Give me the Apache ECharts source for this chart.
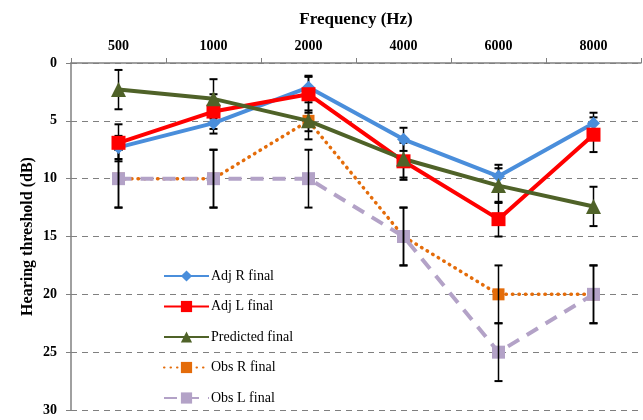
<!DOCTYPE html>
<html>
<head>
<meta charset="utf-8">
<script src="https://cdn.jsdelivr.net/npm/echarts@6/dist/echarts.min.js"></script>
<style>
html,body{margin:0;padding:0;background:#fff;}
#c{width:643px;height:420px;}
</style>
</head>
<body>
<div id="c"></div>
<script>
const categories = ['500', '1000', '2000', '4000', '6000', '8000'];
const yTicks = [0, 5, 10, 15, 20, 25, 30];
const adjR = [7.3, 5.2, 2.1, 6.6, 9.8, 5.2];
const adjL = [6.9, 4.2, 2.7, 8.5, 13.5, 6.2];
const predicted = [2.3, 3.1, 5.0, 8.3, 10.6, 12.4];
const obsR = [10, 10, 5, 15, 20, 20];
const obsL = [10, 10, 10, 15, 25, 20];
const adjRErr = [1.0, 0.9, 0.9, 1.0, 1.0, 0.9];
const adjLErr = [1.6, 1.5, 1.6, 1.6, 1.5, 1.5];
const predErr = [1.7, 1.7, 0.9, 1.6, 1.5, 1.7];
const obsRErr = [2.5, 2.5, 1.6, 2.5, 2.5, 2.5];
const obsLErr = [2.5, 2.5, 2.5, 2.5, 2.5, 2.5];

const FONT = '"Liberation Serif", "Times New Roman", serif';

function errData(vals, errs) {
  return vals.map((v, i) => [i, v - errs[i], v + errs[i]]);
}
function errSeries(vals, errs) {
  return {
    type: 'custom',
    silent: true,
    z: 3,
    renderItem: function (params, api) {
      const x = api.value(0);
      const lo = api.coord([x, api.value(1)]);
      const hi = api.coord([x, api.value(2)]);
      const w = 4;
      return {
        type: 'group',
        children: [
          { type: 'line', shape: { x1: lo[0], y1: lo[1], x2: hi[0], y2: hi[1] }, style: { stroke: '#000', lineWidth: 1.5 } },
          { type: 'line', shape: { x1: lo[0] - w, y1: lo[1], x2: lo[0] + w, y2: lo[1] }, style: { stroke: '#000', lineWidth: 2 } },
          { type: 'line', shape: { x1: hi[0] - w, y1: hi[1], x2: hi[0] + w, y2: hi[1] }, style: { stroke: '#000', lineWidth: 2 } }
        ]
      };
    },
    encode: { x: 0, y: [1, 2] },
    data: errData(vals, errs)
  };
}

const chart = echarts.init(document.getElementById('c'));
chart.setOption({
  animation: false,
  textStyle: { fontFamily: FONT },
  grid: { left: 71, right: 2, top: 63, bottom: 10, containLabel: false },
  legend: {
    orient: 'vertical',
    left: 163,
    top: 269,
    height: 200,
    padding: 0,
    itemWidth: 45,
    itemHeight: 14,
    itemGap: 16.5,
    textStyle: { fontFamily: FONT, fontSize: 14, color: '#000', padding: [0, 0, 0, -3] },
    data: ['Adj R final', 'Adj L final', 'Predicted final', 'Obs R final', 'Obs L final']
  },
  xAxis: {
    type: 'category',
    position: 'top',
    data: categories,
    boundaryGap: true,
    name: 'Frequency (Hz)',
    nameLocation: 'middle',
    nameGap: 35,
    nameTextStyle: { fontFamily: FONT, fontSize: 17, fontWeight: 'bold', color: '#000' },
    axisLine: { lineStyle: { color: '#808080', width: 1.5 } },
    axisTick: { show: true, length: 5, lineStyle: { color: '#808080' }, alignWithLabel: false },
    axisLabel: { fontFamily: FONT, fontSize: 14, fontWeight: 'bold', color: '#000', margin: 10 },
    splitLine: { show: false }
  },
  yAxis: {
    type: 'value',
    inverse: true,
    min: yTicks[0],
    max: yTicks[yTicks.length - 1],
    interval: 5,
    name: 'Hearing threshold (dB)',
    nameLocation: 'middle',
    nameGap: 35,
    nameMoveOverlap: false,
    nameRotate: 90,
    nameTextStyle: { fontFamily: FONT, fontSize: 16, fontWeight: 'bold', color: '#000' },
    axisLine: { show: true, lineStyle: { color: '#808080', width: 1.5 } },
    axisTick: { show: true, length: 5, lineStyle: { color: '#808080' } },
    axisLabel: { fontFamily: FONT, fontSize: 14, fontWeight: 'bold', color: '#000', margin: 14 },
    splitLine: { show: true, lineStyle: { color: '#808080', type: [6, 5], width: 1.2 } }
  },
  series: [
    errSeries(obsL, obsLErr),
    errSeries(obsR, obsRErr),
    errSeries(predicted, predErr),
    errSeries(adjL, adjLErr),
    errSeries(adjR, adjRErr),
    {
      name: 'Adj R final', type: 'line', data: adjR, z: 4,
      symbol: 'diamond', symbolSize: 13,
      lineStyle: { color: '#4A8EDB', width: 4 },
      itemStyle: { color: '#4A8EDB' }
    },
    {
      name: 'Adj L final', type: 'line', data: adjL, z: 4,
      symbol: 'rect', symbolSize: 14,
      lineStyle: { color: '#FF0000', width: 4 },
      itemStyle: { color: '#FF0000' }
    },
    {
      name: 'Predicted final', type: 'line', data: predicted, z: 4,
      symbol: 'triangle', symbolSize: 15,
      lineStyle: { color: '#4F6228', width: 4 },
      itemStyle: { color: '#4F6228' }
    },
    {
      name: 'Obs R final', type: 'line', data: obsR, z: 2,
      symbol: 'rect', symbolSize: 12,
      lineStyle: { color: '#E46C0A', width: 3.5, type: [0.5, 6], cap: 'round' },
      itemStyle: { color: '#E46C0A' }
    },
    {
      name: 'Obs L final', type: 'line', data: obsL, z: 2,
      symbol: 'rect', symbolSize: 13,
      lineStyle: { color: '#B3A2C7', width: 4, type: [13, 9] },
      itemStyle: { color: '#B3A2C7' }
    }
  ]
});
</script>
</body>
</html>
